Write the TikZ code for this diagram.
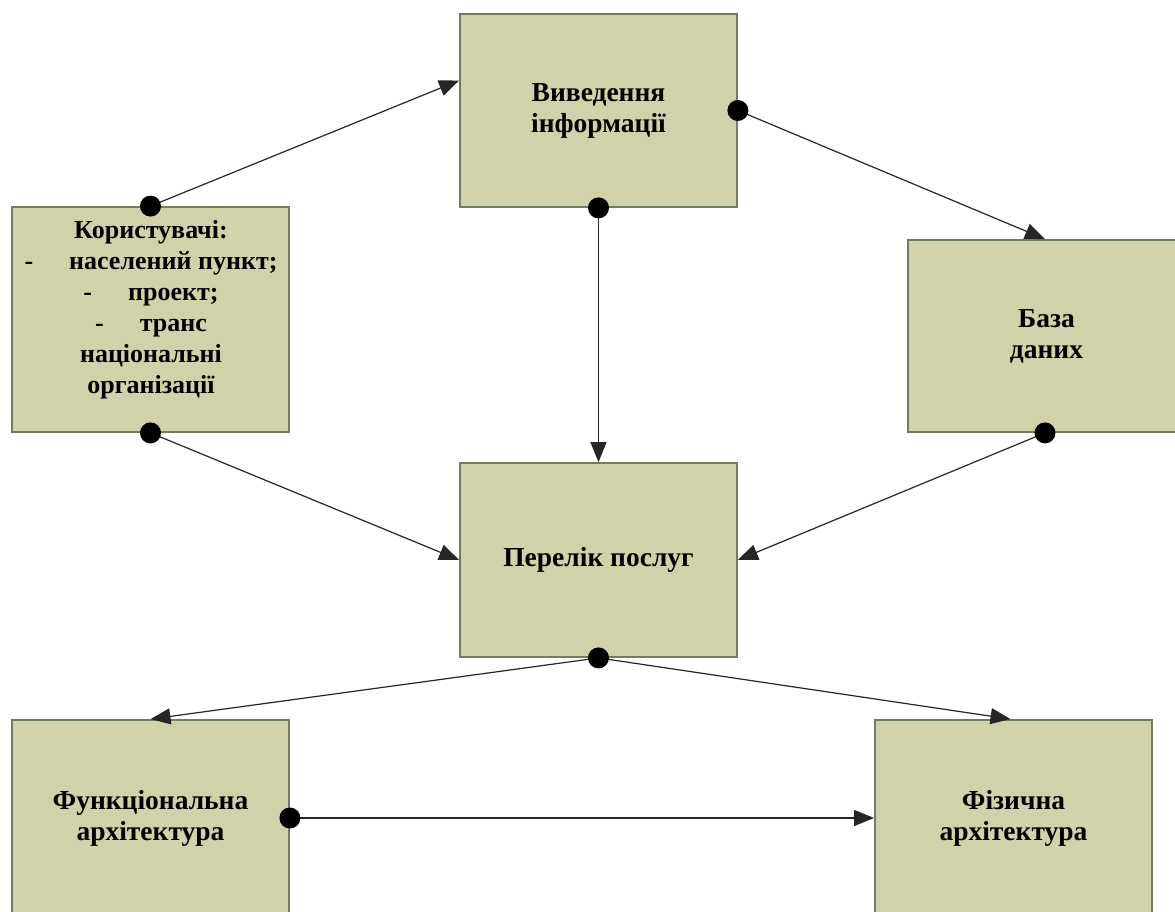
\documentclass[tikz,border=0pt]{standalone}
\usepackage{fontspec}
\setmainfont{Liberation Serif}
\usetikzlibrary{arrows.meta}
\definecolor{boxfill}{RGB}{210,210,170}
\definecolor{boxline}{RGB}{112,126,96}
\tikzset{
  block/.style={draw=boxline, line width=1.8pt, fill=boxfill, minimum width=277pt,
    inner sep=0pt, align=center, font=\bfseries\fontsize{27.5}{31}\selectfont},
  link/.style={line width=1.2pt, draw=black!85, -{Triangle[length=20pt,width=16pt]}},
  dot/.style={fill=black}
}
\begin{document}
\begin{tikzpicture}[x=1pt,y=-1pt]
  \useasboundingbox (0,0) rectangle (1175,912);
  \clip (0,0) rectangle (1175,912);
  \fill[white] (0,0) rectangle (1175,912);

  % blocks
  \node[block, minimum height=193pt] (vyv) at (598.5,110.5) {Виведення\\інформації};
  \node[block, minimum height=225pt] (kor) at (150.5,319.5) {};
  \node[align=center, font=\bfseries\fontsize{26}{31}\selectfont] (kortext) at (151,310)
    {Користувачі:\\
     -\hspace{36pt}населений пункт;\\
     -\hspace{36pt}проект;\\
     -\hspace{36pt}транс\\
     національні\\
     організації};
  \node[block, minimum height=192pt] (baza) at (1046.5,336) {База\\даних};
  \node[block, minimum height=194pt] (per) at (598.5,560) {Перелік послуг};
  \node[block, minimum height=196pt] (func) at (150.5,818) {Функціональна\\архітектура};
  \node[block, minimum height=196pt] (fiz) at (1013.5,818) {Фізична\\архітектура};

  % connectors
  \draw[link] (kor.north) -- ([yshift=30pt]vyv.west);
  \draw[link] (vyv.east) -- ([xshift=-1.5pt]baza.north);
  \draw[link] (vyv.south) -- (per.north);
  \draw[link] (kor.south) -- (per.west);
  \draw[link] ([xshift=-1.5pt]baza.south) -- (per.east);
  \draw[link] (per.south) -- (func.north);
  \draw[link] (per.south) -- ([xshift=-3pt]fiz.north);
  \draw[link] (func.east) -- (fiz.west);

  % connection dots
  \foreach \p in {kor.north, vyv.east, vyv.south, kor.south, per.south, func.east}
    \fill[dot] (\p) circle (10.5pt);
  \fill[dot] ([xshift=-1.5pt]baza.south) circle (10.5pt);
\end{tikzpicture}
\end{document}
